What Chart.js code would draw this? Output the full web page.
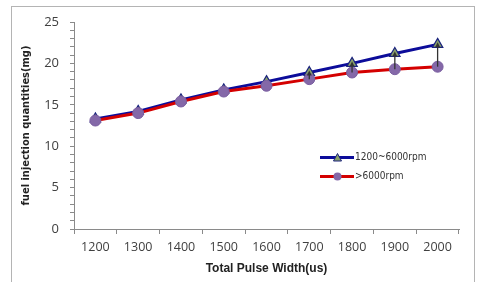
<!DOCTYPE html>
<html><head><meta charset="utf-8">
<script src="https://cdn.jsdelivr.net/npm/chart.js@4"></script>
<style>
html,body{margin:0;padding:0;background:#fff;}
#wrap{position:relative;width:481px;height:282px;overflow:hidden;}
#frame{position:absolute;left:11px;top:6px;width:464px;height:300px;border:1.5px solid #b4b4b4;box-sizing:border-box;}
canvas{position:absolute;left:0;top:0;}
.leg{position:absolute;font-family:"DejaVu Sans Condensed","Liberation Sans",sans-serif;font-size:10px;color:#333;height:12px;line-height:12px;}
.leg .ln{position:absolute;left:0;top:5px;width:34px;height:3px;}
.leg .tx{position:absolute;left:35px;top:0;white-space:nowrap;}
</style></head>
<body><div id="wrap"><div id="frame"></div><canvas id="c" width="481" height="282"></canvas>
<div class="leg" style="left:320px;top:151px;width:120px;"><div class="ln" style="background:#0c0c9a"></div>
<svg style="position:absolute;left:13px;top:2px" width="9" height="9"><polygon points="4.5,0.5 8.5,8 0.5,8" fill="#8aa06a" stroke="#1a237e" stroke-width="1"/></svg>
<span class="tx">1200~6000rpm</span></div>
<div class="leg" style="left:320px;top:170px;width:120px;"><div class="ln" style="background:#d40000"></div>
<svg style="position:absolute;left:13px;top:2px" width="9" height="9"><circle cx="4.5" cy="4.5" r="4" fill="#8468a8"/></svg>
<span class="tx">&gt;6000rpm</span></div>
</div>
<script>
const categories = ['1200','1300','1400','1500','1600','1700','1800','1900','2000'];
const lowSpeed = [13.3, 14.2, 15.6, 16.8, 17.8, 18.9, 20.0, 21.2, 22.3];
const highSpeed = [13.1, 14.0, 15.4, 16.6, 17.3, 18.1, 18.9, 19.3, 19.6];
const arrowCategories = ['1700','1800','1900','2000'];
const yTickLabels = [0, 5, 10, 15, 20, 25];

const arrowPlugin = {
  id: 'arrows',
  afterDatasetsDraw(chart) {
    const ctx = chart.ctx;
    const x = chart.scales.x, y = chart.scales.y;
    ctx.save();
    ctx.strokeStyle = '#333';
    ctx.fillStyle = '#333';
    ctx.lineWidth = 1.3;
    arrowCategories.forEach(c => {
      const i = categories.indexOf(c);
      const px = x.getPixelForValue(i);
      const y0 = y.getPixelForValue(highSpeed[i]);
      const y1 = y.getPixelForValue(lowSpeed[i]);
      ctx.beginPath(); ctx.moveTo(px, y0); ctx.lineTo(px, y1 + 1); ctx.stroke();
      ctx.beginPath(); ctx.moveTo(px, y1 - 2); ctx.lineTo(px - 2.5, y1 + 3); ctx.lineTo(px + 2.5, y1 + 3); ctx.closePath(); ctx.fill();
    });
    ctx.restore();
  }
};

new Chart(document.getElementById('c'), {
  type: 'line',
  data: {
    labels: categories,
    datasets: [
      {
        label: '>6000rpm', data: highSpeed, borderColor: '#d40000', borderWidth: 3,
        pointStyle: 'circle', pointRadius: 5.5, pointBackgroundColor: '#8468a8', pointBorderColor: '#7a5ea0',
        pointBorderWidth: 1, tension: 0, order: 1
      },
      {
        label: '1200~6000rpm', data: lowSpeed, borderColor: '#0c0c9a', borderWidth: 3,
        pointStyle: 'triangle', pointRadius: 6, pointBackgroundColor: '#8aa06a', pointBorderColor: '#1a237e',
        pointBorderWidth: 1.2, tension: 0, order: 2
      }
    ]
  },
  options: {
    responsive: false, animation: false,
    layout: { padding: { left: 20, top: 22, right: 22, bottom: 6 } },
    plugins: { legend: { display: false }, tooltip: { enabled: false } },
    scales: {
      x: {
        offset: true,
        grid: { display: true, drawOnChartArea: false, offset: true, tickLength: 5, color: '#8a8a8a' },
        border: { color: '#8a8a8a', width: 1 },
        ticks: { color: '#404040', font: { family: 'Open Sans', size: 12.5 }, padding: 6, maxRotation: 0 },
        title: { display: true, text: 'Total Pulse Width(us)', color: '#222', font: { family: 'Liberation Sans', size: 12, weight: 'bold' }, padding: { top: 1, bottom: 0 } },
        afterFit(s) { s.height = 47; }
      },
      y: {
        min: 0, max: 25,
        grid: { display: true, drawOnChartArea: false, tickLength: 4, color: '#8a8a8a' },
        border: { color: '#8a8a8a', width: 1 },
        ticks: {
          stepSize: 1, color: '#404040', font: { family: 'Open Sans', size: 13 }, padding: 11,
          autoSkip: false,
          callback: v => yTickLabels.includes(v) ? String(v) : ''
        },
        title: { display: true, text: 'fuel injection quantities(mg)', color: '#222', font: { family: 'DejaVu Sans Condensed', size: 11, weight: 'bold' }, padding: { top: 0, bottom: 4 } },
        afterFit(s) { s.width = 54; }
      }
    }
  },
  plugins: [arrowPlugin]
});
</script></body></html>
